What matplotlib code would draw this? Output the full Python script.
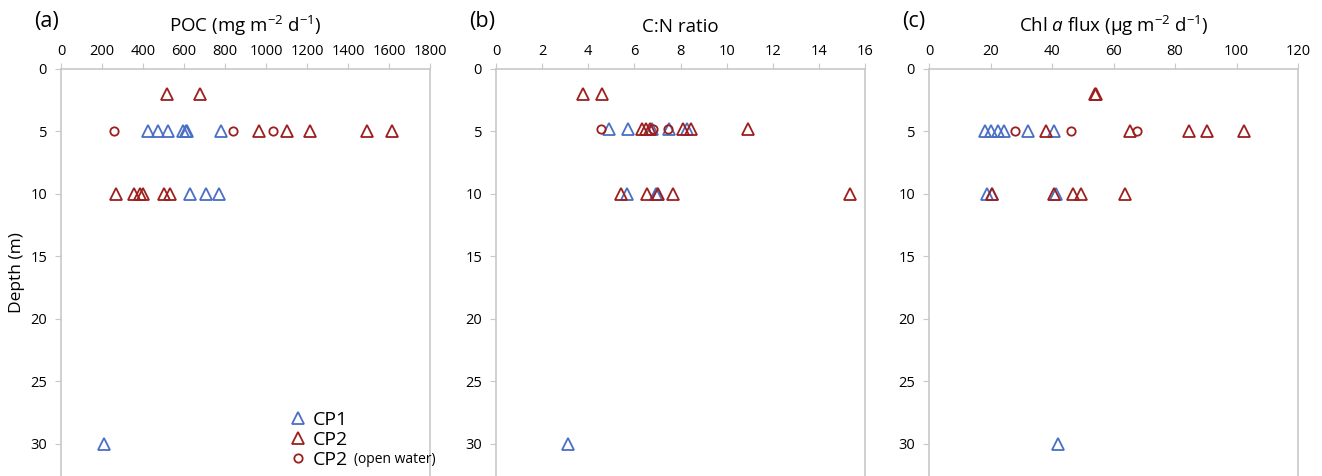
import matplotlib.pyplot as plt
from matplotlib.lines import Line2D

plt.rcParams['font.family'] = ['Open Sans', 'DejaVu Sans']
plt.rcParams['mathtext.fontset'] = 'custom'
plt.rcParams['mathtext.rm'] = 'Open Sans'
plt.rcParams['mathtext.it'] = 'Open Sans:italic'

# depth (m) and values
# (a) POC flux
poc_cp1_depth = [5, 5, 5, 5, 5, 5, 5, 10, 10, 10, 30]
poc_cp1 = [425, 472, 521, 596, 609, 615, 781, 628, 705, 773, 210]
poc_cp2_depth = [2, 2, 5, 5, 5, 5, 5, 10, 10, 10, 10, 10, 10]
poc_cp2 = [519, 679, 967, 1103, 1214, 1494, 1613, 267, 355, 385, 400, 500, 530]
poc_ow_depth = [5, 5, 5]
poc_ow = [260, 840, 1032]

# (b) C:N ratio
cn_cp1_depth = [4.8, 4.8, 4.8, 4.8, 4.8, 10, 10, 10, 30]
cn_cp1 = [4.88, 5.74, 6.75, 7.5, 8.28, 5.66, 6.92, 7.0, 3.13]
cn_cp2_depth = [2, 2, 4.8, 4.8, 4.8, 4.8, 4.8, 4.8, 10, 10, 10, 10, 10]
cn_cp2 = [3.78, 4.59, 6.33, 6.52, 6.67, 8.12, 8.47, 10.91, 5.44, 6.55, 7.04, 7.68, 15.36]
cn_ow_depth = [4.8, 4.8, 4.8]
cn_ow = [4.56, 6.81, 7.44]

# (c) Chl a flux
chl_cp1_depth = [5, 5, 5, 5, 5, 5, 10, 10, 10, 30]
chl_cp1 = [18.3, 20.3, 22.4, 24.5, 32.1, 40.5, 18.8, 20.5, 41.2, 41.9]
chl_cp2_depth = [2, 2, 5, 5, 5, 5, 5, 10, 10, 10, 10, 10]
chl_cp2 = [54.0, 54.2, 38.2, 65.4, 84.5, 90.5, 102.3, 20.6, 40.7, 46.8, 49.4, 63.8]
chl_ow_depth = [5, 5, 5]
chl_ow = [28.0, 46.3, 67.6]

blue = '#4a6fc4'
red = '#9c1f1d'
spine_col = '#c8c8c8'

fig = plt.figure(figsize=(13.22, 4.76), dpi=100)
top = 1 - 69 / 476
lefts = [61 / 1322, 496 / 1322, 929 / 1322]
w = 369 / 1322
axes = [fig.add_axes([l, 0, w, top]) for l in lefts]

panels = [
    (poc_cp1, poc_cp1_depth, poc_cp2, poc_cp2_depth, poc_ow, poc_ow_depth,
     (0, 1800), range(0, 1801, 200), r'POC (mg m$^{-2}$ d$^{-1}$)', '(a)'),
    (cn_cp1, cn_cp1_depth, cn_cp2, cn_cp2_depth, cn_ow, cn_ow_depth,
     (0, 16), range(0, 17, 2), 'C:N ratio', '(b)'),
    (chl_cp1, chl_cp1_depth, chl_cp2, chl_cp2_depth, chl_ow, chl_ow_depth,
     (0, 120), range(0, 121, 20), 'Chl $a$ flux (\u00b5g m$^{-2}$ d$^{-1}$)', '(c)'),
]

for ax, (x1, y1, x2, y2, x3, y3, xl, xt, title, tag) in zip(axes, panels):
    ax.plot(x1, y1, '^', mfc='none', mec=blue, mew=1.3, ms=8, ls='none')
    ax.plot(x2, y2, '^', mfc='none', mec=red, mew=1.3, ms=8, ls='none')
    ax.plot(x3, y3, 'o', mfc='none', mec=red, mew=1.3, ms=6, ls='none')
    ax.set_xlim(*xl)
    ax.set_ylim(32.6, 0)
    ax.set_xticks(list(xt))
    ax.set_yticks([0, 5, 10, 15, 20, 25, 30])
    ax.xaxis.tick_top()
    ax.tick_params(axis='both', direction='out', length=4, color=spine_col,
                   labelsize=10.5, pad=3)
    ax.tick_params(axis='y', pad=6)
    for s in ['left', 'right', 'top']:
        ax.spines[s].set_color(spine_col)
        ax.spines[s].set_linewidth(1.2)
    ax.spines['bottom'].set_visible(False)
    ax.set_title(title, fontsize=13.5, pad=27)
    fig.text(ax.get_position().x0 - 0.020, 1 - 22 / 476, tag, fontsize=15.5,
             va='center', ha='left')

axes[0].set_ylabel('Depth (m)', fontsize=12.5, labelpad=4)

handles = [
    Line2D([], [], marker='^', mfc='none', mec=blue, mew=1.3, ms=9, ls='none'),
    Line2D([], [], marker='^', mfc='none', mec=red, mew=1.3, ms=9, ls='none'),
    Line2D([], [], marker='o', mfc='none', mec=red, mew=1.3, ms=6, ls='none'),
]
labels = ['CP1', 'CP2', 'CP2']
leg = axes[0].legend(handles, labels, loc='upper left', bbox_to_anchor=(0.595, 0.18),
                     frameon=False, fontsize=14, handlelength=1.0, handletextpad=0.25,
                     labelspacing=0.12, borderaxespad=0)

# smaller "(open water)" after the third label, on the same baseline
fig.canvas.draw()
bb = leg.get_texts()[2].get_window_extent()
x_end, y_base = fig.transFigure.inverted().transform((bb.x1, bb.y0))
fig.text(x_end + 0.005, y_base + 0.005, '(open water)', fontsize=10,
         ha='left', va='bottom')

fig.savefig('out.png', dpi=100)
